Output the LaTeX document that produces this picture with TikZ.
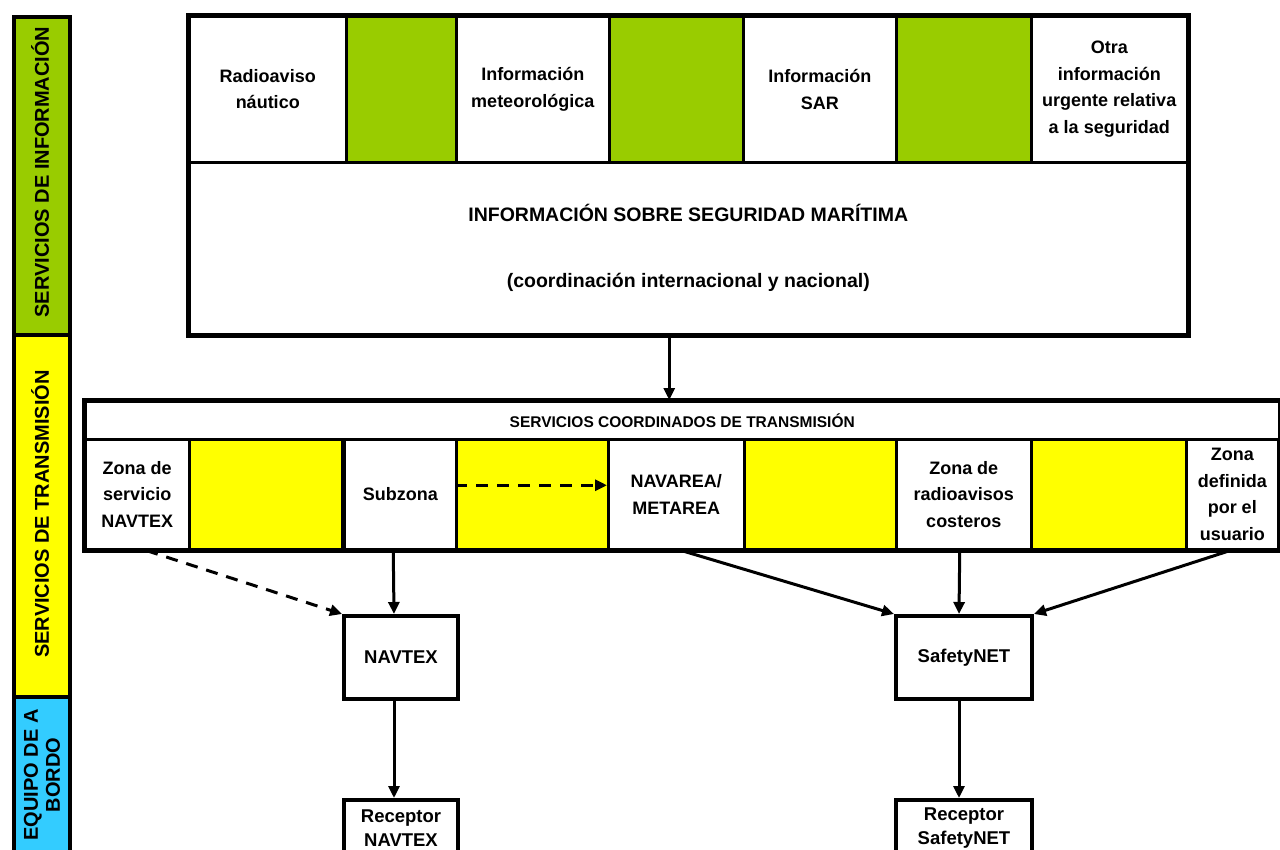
\documentclass[tikz,border=0pt]{standalone}
\usepackage{fontspec}
\setmainfont{Liberation Sans}
\usetikzlibrary{arrows.meta,calc}
\definecolor{igreen}{HTML}{99CC00}
\definecolor{iyellow}{HTML}{FFFF00}
\definecolor{icyan}{HTML}{33CCFF}
\begin{document}
\begin{tikzpicture}[x=1pt,y=-1pt,
  cell/.style={draw=black, line width=2.5pt, anchor=north west, inner sep=0pt, align=center,
    font=\bfseries\fontsize{18}{26.5}\selectfont},
  gcell/.style={cell, fill=igreen},
  ycell/.style={cell, fill=iyellow},
  outer/.style={draw=black, line width=4pt},
  sidebar/.style={draw=black, line width=4pt, anchor=north west, inner sep=0pt, minimum width=56pt},
  sidetext/.style={rotate=90, align=center, font=\bfseries\fontsize{20}{22}\selectfont},
  boxnode/.style={draw=black, line width=4pt, anchor=north west, inner sep=0pt, align=center,
    minimum width=114pt, font=\bfseries\fontsize{18.5}{24}\selectfont},
  arr/.style={line width=3pt, -{Triangle[length=12pt,width=11pt]}},
  darr/.style={arr, dash pattern=on 12pt off 9pt}
]
\useasboundingbox (0,0) rectangle (1280,849);
\clip (0,0) rectangle (1280,849);

% ---------- left side bar ----------
\node[sidebar, fill=igreen, minimum height=318pt] (lg) at (12,15) {};
\node[sidebar, fill=iyellow, minimum height=362pt] (ly) at (12,333) {};
\node[sidebar, fill=icyan, minimum height=180pt] (lb) at (12,695) {};
\node[sidetext] (lgt) at (40,172) {SERVICIOS DE INFORMACIÓN};
\node[sidetext] (lyt) at (40,514) {SERVICIOS DE TRANSMISIÓN};
\node[sidetext] (lbt) at (42,775) {EQUIPO DE A\\BORDO};

% ---------- top box ----------
\node[cell, minimum width=157pt, minimum height=146pt] (r1) at (188,15) {Radioaviso\\náutico};
\node[gcell, minimum width=110pt, minimum height=146pt] (g1) at (345,15) {};
\node[cell, minimum width=153pt, minimum height=146pt] (r2) at (455,15) {Información\\meteorológica};
\node[gcell, minimum width=134pt, minimum height=146pt] (g2) at (608,15) {};
\node[cell, minimum width=153pt, minimum height=146pt] (r3) at (742,15) {Información\\SAR};
\node[gcell, minimum width=135pt, minimum height=146pt] (g3) at (895,15) {};
\node[cell, minimum width=156pt, minimum height=146pt] (r4) at (1030,15) {Otra\\información\\urgente relativa\\a la seguridad};
\node[cell, minimum width=998pt, minimum height=172pt, font=\bfseries\fontsize{19.5}{22}\selectfont] (main) at (188,161)
  {INFORMACIÓN SOBRE SEGURIDAD MARÍTIMA\\[44pt](coordinación internacional y nacional)};
\draw[outer] (r1.north west) rectangle (main.south east);

% ---------- bottom box ----------
\node[cell, minimum width=1194pt, minimum height=38pt, font=\bfseries\fontsize{15.5}{18}\selectfont] (title) at (84,400)
  {SERVICIOS COORDINADOS DE TRANSMISIÓN};
\node[cell, minimum width=104pt, minimum height=110pt] (b1) at (84,438) {Zona de\\servicio\\NAVTEX};
\node[ycell, minimum width=155pt, minimum height=110pt] (y1) at (188,438) {};
\node[cell, minimum width=112pt, minimum height=110pt] (b2) at (343,438) {Subzona};
\node[ycell, minimum width=152pt, minimum height=110pt] (y2) at (455,438) {};
\node[cell, minimum width=136pt, minimum height=110pt] (b3) at (607,438) {NAVAREA/\\METAREA};
\node[ycell, minimum width=152pt, minimum height=110pt] (y3) at (743,438) {};
\node[cell, minimum width=135pt, minimum height=110pt] (b4) at (895,438) {Zona de\\radioavisos\\costeros};
\node[ycell, minimum width=155pt, minimum height=110pt] (y4) at (1030,438) {};
\node[cell, minimum width=92pt, minimum height=110pt] (b5) at (1185,438) {Zona\\definida\\por el\\usuario};
\draw[outer] (title.north west) rectangle (b5.south east);
\draw[line width=4pt] (b2.north west) -- (b2.south west);

% ---------- lower boxes ----------
\node[boxnode, minimum height=83pt] (navtex) at (342,614) {NAVTEX};
\node[boxnode, minimum width=136pt, minimum height=83pt] (safety) at (894,614) {SafetyNET};
\node[boxnode, minimum height=56pt] (rnavtex) at (342,798) {Receptor\\NAVTEX};
\node[boxnode, minimum width=136pt, minimum height=56pt] (rsafety) at (894,798) {Receptor\\SafetyNET};

% ---------- connectors ----------
\draw[arr] ([xshift=-19pt]main.south) -- ([xshift=-19pt]main.south |- title.north);
\draw[darr] ([yshift=9pt]y2.west) -- ([yshift=9pt]b3.west);
\draw[darr] ([xshift=9pt]b1.south) -- (navtex.north west);
\draw[arr] ([xshift=-7pt]b2.south) -- ([xshift=-7pt]navtex.north);
\draw[arr] ([xshift=5pt]b3.south) -- (safety.north west);
\draw[arr] ([xshift=-4pt]b4.south) -- ([xshift=-5pt]safety.north);
\draw[arr] ([xshift=-2pt]b5.south) -- (safety.north east);
\draw[arr] ([xshift=-7pt]navtex.south) -- ([xshift=-7pt]rnavtex.north);
\draw[arr] ([xshift=-5pt]safety.south) -- ([xshift=-5pt]rsafety.north);
\end{tikzpicture}
\end{document}
